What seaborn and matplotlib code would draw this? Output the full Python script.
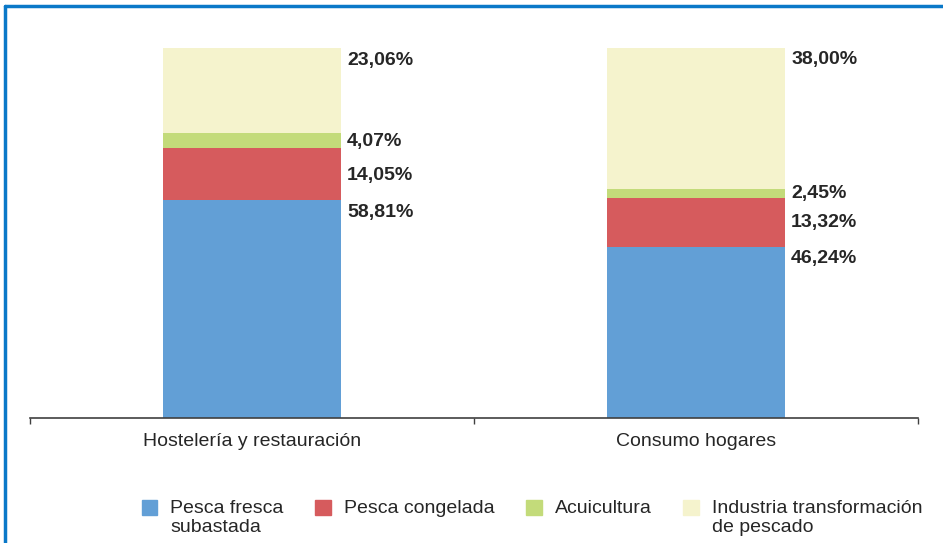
import matplotlib
matplotlib.use("Agg")
import matplotlib.pyplot as plt
from matplotlib.lines import Line2D
import seaborn as sns
import numpy as np

# datos del gráfico
categorias = ["Hostelería y restauración", "Consumo hogares"]
series = ["Pesca fresca\nsubastada", "Pesca congelada", "Acuicultura",
          "Industria transformación\nde pescado"]
pesca_fresca = [58.81, 46.24]
pesca_congelada = [14.05, 13.32]
acuicultura = [4.07, 2.45]
industria = [23.06, 38.00]

colores = ["#629fd6", "#d65b5d", "#c3db7a", "#f5f3cd"]
pos_etiqueta = ["top", "center", "center", "top"]

sns.set_style("white")
plt.rcParams["font.family"] = ["Liberation Sans", "DejaVu Sans"]
texto = "#262626"

fig = plt.figure(figsize=(9.43, 5.43), dpi=100)
ax = fig.add_axes([30 / 943, 1 - 418 / 543, 888 / 943, 370 / 543])

valores = np.array([pesca_fresca, pesca_congelada, acuicultura, industria])
acumulado = np.cumsum(valores, axis=0)
ancho = 0.403

# barras apiladas: se dibuja de arriba abajo sobre la suma acumulada
for k in range(len(series) - 1, -1, -1):
    sns.barplot(x=categorias, y=acumulado[k], color=colores[k], width=ancho,
                saturation=1, ax=ax, zorder=2, linewidth=0, edgecolor="none")

# etiquetas de porcentaje
for k in range(len(series)):
    for i in range(len(categorias)):
        v = valores[k, i]
        arriba = acumulado[k, i]
        abajo = arriba - v
        txt = f"{v:.2f}".replace(".", ",") + "%"
        if pos_etiqueta[k] == "top":
            ax.annotate(txt, (i + ancho / 2, arriba), xytext=(4, -2.5),
                        textcoords="offset points", ha="left", va="top",
                        fontsize=14, fontweight="bold", color=texto)
        else:
            ax.annotate(txt, ((i + ancho / 2), (arriba + abajo) / 2), xytext=(4, -0.5),
                        textcoords="offset points", ha="left", va="center",
                        fontsize=14, fontweight="bold", color=texto)

ax.set_xlim(-0.5, 1.5)
ax.set_ylim(0, 100)
ax.set_xlabel("")
ax.set_ylabel("")
ax.set_yticks([])
for lado in ["top", "left", "right"]:
    ax.spines[lado].set_visible(False)
ax.spines["bottom"].set_color("#404040")
ax.spines["bottom"].set_linewidth(1.2)
ax.set_xticks([0, 1])
ax.set_xticklabels(categorias, fontsize=14, color=texto)
ax.set_xticks([-0.5, 0.5, 1.5], minor=True)
ax.tick_params(axis="x", which="major", length=0, pad=11)
ax.tick_params(axis="x", which="minor", length=4.5, width=1, color="#404040",
               direction="out", bottom=True)

# leyenda
manejadores = [plt.Rectangle((0, 0), 1, 1, color=c) for c in colores]
leg = fig.legend(manejadores, series, loc="upper left",
                 bbox_to_anchor=(132 / 943, 1 - 490 / 543),
                 ncol=4, frameon=False, fontsize=14, handlelength=0.8, handleheight=0.8,
                 handletextpad=0.65, columnspacing=1.65, borderpad=0, labelcolor=texto,
                 labelspacing=0)
# cuadros alineados con la primera línea del texto
leg._legend_handle_box.align = "top"
for col in leg._legend_handle_box.get_children():
    for fila in col.get_children():
        fila.align = "top"

# marco azul (arriba e izquierda)
azul = "#0a78c8"
fig.add_artist(Line2D([5 / 943, 1], [1 - 6 / 543, 1 - 6 / 543], color=azul, lw=2.5,
                      transform=fig.transFigure))
fig.add_artist(Line2D([5 / 943, 5 / 943], [0, 1 - 6 / 543], color=azul, lw=2.5,
                      transform=fig.transFigure))

fig.savefig("out.png", dpi=100)
